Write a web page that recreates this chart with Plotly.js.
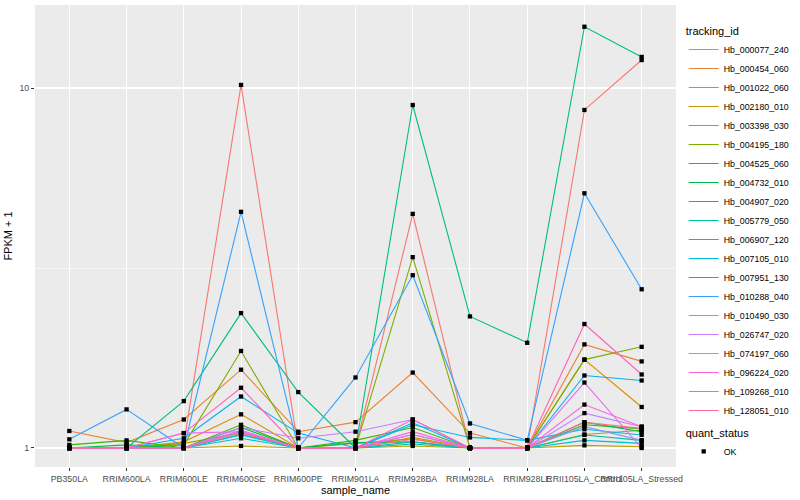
<!DOCTYPE html>
<html><head><meta charset="utf-8">
<script src="https://cdn.plot.ly/plotly-3.0.1.min.js"></script>
<style>html,body{margin:0;padding:0;background:#fff}#chart{width:800px;height:500px}</style>
</head><body><div id="chart"></div>
<script>
// categories
const samples = ["PB350LA","RRIM600LA","RRIM600LE","RRIM600SE","RRIM600PE","RRIM901LA","RRIM928BA","RRIM928LA","RRIM928LE","RRII105LA_Control","RRII105LA_Stressed"];
// series names and colours (ggplot hue palette)
const trackingIds = ["Hb_000077_240","Hb_000454_060","Hb_001022_060","Hb_002180_010","Hb_003398_030","Hb_004195_180","Hb_004525_060","Hb_004732_010","Hb_004907_020","Hb_005779_050","Hb_006907_120","Hb_007105_010","Hb_007951_130","Hb_010288_040","Hb_010490_030","Hb_026747_020","Hb_074197_060","Hb_096224_020","Hb_109268_010","Hb_128051_010"];
const seriesColors = ["#F8766D","#EA8331","#D89000","#C09B00","#A3A500","#7CAE00","#39B600","#00BB4E","#00BF7D","#00C1A3","#00BFC4","#00BAE0","#00B0F6","#35A2FF","#9590FF","#C77CFF","#E76BF3","#FA62DB","#FF62BC","#FF6C91"];
// FPKM + 1 values, one array per tracking id (order = samples)
const hb_000077_240 = [1.00, 1.00, 1.03, 10.2, 1.00, 1.00, 4.47, 1.00, 1.00, 8.69, 11.96];
const hb_000454_060 = [1.115, 1.035, 1.20, 1.65, 1.11, 1.18, 1.62, 1.10, 1.00, 1.94, 1.74];
const hb_001022_060 = [1.00, 1.00, 1.04, 1.24, 1.00, 1.00, 1.07, 1.00, 1.00, 1.76, 1.30];
const hb_002180_010 = [1.00, 1.00, 1.00, 1.013, 1.00, 1.00, 1.013, 1.00, 1.00, 1.017, 1.008];
const hb_003398_030 = [1.00, 1.00, 1.03, 1.10, 1.00, 1.03, 1.06, 1.00, 1.00, 1.09, 1.12];
const hb_004195_180 = [1.00, 1.00, 1.02, 1.86, 1.00, 1.00, 3.39, 1.00, 1.00, 1.76, 1.91];
const hb_004525_060 = [1.02, 1.05, 1.00, 1.16, 1.00, 1.05, 1.14, 1.00, 1.00, 1.16, 1.13];
const hb_004732_010 = [1.00, 1.02, 1.00, 1.14, 1.00, 1.035, 1.04, 1.00, 1.00, 1.18, 1.11];
const hb_004907_020 = [1.00, 1.00, 1.35, 2.37, 1.43, 1.00, 8.97, 2.32, 1.96, 14.8, 12.2];
const hb_005779_050 = [1.00, 1.00, 1.00, 1.09, 1.00, 1.00, 1.026, 1.00, 1.00, 1.087, 1.05];
const hb_006907_120 = [1.00, 1.00, 1.00, 1.064, 1.00, 1.00, 1.04, 1.00, 1.00, 1.05, 1.03];
const hb_007105_010 = [1.00, 1.00, 1.00, 1.087, 1.00, 1.00, 1.16, 1.07, 1.05, 1.127, 1.087];
const hb_007951_130 = [1.00, 1.00, 1.064, 1.39, 1.10, 1.00, 1.175, 1.00, 1.00, 1.59, 1.54];
const hb_010288_040 = [1.057, 1.28, 1.00, 4.53, 1.00, 1.57, 3.02, 1.17, 1.05, 5.10, 2.76];
const hb_010490_030 = [1.00, 1.00, 1.00, 1.11, 1.00, 1.00, 1.09, 1.00, 1.00, 1.146, 1.05];
const hb_026747_020 = [1.00, 1.00, 1.00, 1.14, 1.064, 1.11, 1.20, 1.00, 1.00, 1.25, 1.146];
const hb_074197_060 = [1.00, 1.00, 1.10, 1.11, 1.00, 1.00, 1.09, 1.00, 1.00, 1.52, 1.00];
const hb_096224_020 = [1.00, 1.00, 1.00, 1.12, 1.00, 1.00, 1.11, 1.00, 1.00, 1.32, 1.146];
const hb_109268_010 = [1.00, 1.00, 1.10, 1.47, 1.00, 1.00, 1.20, 1.00, 1.00, 2.21, 1.60];
const hb_128051_010 = [1.00, 1.00, 1.00, 1.10, 1.00, 1.00, 1.057, 1.00, 1.00, 1.178, 1.134];
// y tick labels
const yTickVals = [1, 10];
const yTickText = ["1", "10"];
const quantStatus = "OK";

const seriesValues = [hb_000077_240, hb_000454_060, hb_001022_060, hb_002180_010, hb_003398_030, hb_004195_180, hb_004525_060, hb_004732_010, hb_004907_020, hb_005779_050, hb_006907_120, hb_007105_010, hb_007951_130, hb_010288_040, hb_010490_030, hb_026747_020, hb_074197_060, hb_096224_020, hb_109268_010, hb_128051_010];

const traces = [];
seriesValues.forEach((vals, i) => {
  traces.push({
    type: 'scatter', mode: 'lines', x: samples, y: vals,
    name: trackingIds[i], legend: 'legend',
    line: {color: seriesColors[i], width: 1.1},
    hoverinfo: 'skip'
  });
});
const px = [], py = [];
seriesValues.forEach(vals => { vals.forEach((v, j) => { px.push(samples[j]); py.push(v); }); });
traces.push({
  type: 'scatter', mode: 'markers', x: px, y: py, name: quantStatus, legend: 'legend2',
  marker: {symbol: 'square', size: 4.3, color: '#000000'}, hoverinfo: 'skip'
});

const layout = {
  width: 800, height: 500,
  margin: {l: 35, r: 117, t: 5, b: 33},
  paper_bgcolor: '#FFFFFF', plot_bgcolor: '#EBEBEB',
  font: {family: 'Liberation Sans, Arial, sans-serif', color: '#000000'},
  showlegend: true,
  xaxis: {
    type: 'category', range: [-0.6, 10.6], tickangle: 0,
    showgrid: true, gridcolor: '#FFFFFF', gridwidth: 1.07,
    zeroline: false, showline: false,
    ticks: 'outside', ticklen: 3, tickcolor: '#333333', tickwidth: 1,
    tickfont: {size: 8.8, color: '#4D4D4D'},
    title: {text: 'sample_name', font: {size: 11, color: '#000000'}, standoff: 3}
  },
  yaxis: {
    type: 'log', range: [-0.0528, 1.2306],
    tickmode: 'array', tickvals: yTickVals, ticktext: yTickText,
    showgrid: true, gridcolor: '#FFFFFF', gridwidth: 1.07,
    minor: {tickmode: 'array', tickvals: [3.1623], showgrid: true, gridcolor: '#FFFFFF', gridwidth: 0.53, ticks: ''},
    zeroline: false, showline: false,
    ticks: 'outside', ticklen: 3, tickcolor: '#333333', tickwidth: 1,
    tickfont: {size: 8.8, color: '#4D4D4D'},
    title: {text: 'FPKM + 1', font: {size: 11, color: '#000000'}, standoff: 4}
  },
  legend: {
    x: 1.012, xanchor: 'left', y: 0.966, yanchor: 'top',
    bgcolor: 'rgba(0,0,0,0)', font: {size: 8.8, color: '#000000'},
    title: {text: 'tracking_id', font: {size: 11}},
    itemwidth: 30, tracegroupgap: 0
  },
  legend2: {
    x: 1.012, xanchor: 'left', y: 0.096, yanchor: 'top',
    bgcolor: 'rgba(0,0,0,0)', font: {size: 8.8, color: '#000000'},
    title: {text: 'quant_status', font: {size: 11}},
    itemwidth: 30
  }
};
Plotly.newPlot('chart', traces, layout, {staticPlot: true, displayModeBar: false});
</script></body></html>
